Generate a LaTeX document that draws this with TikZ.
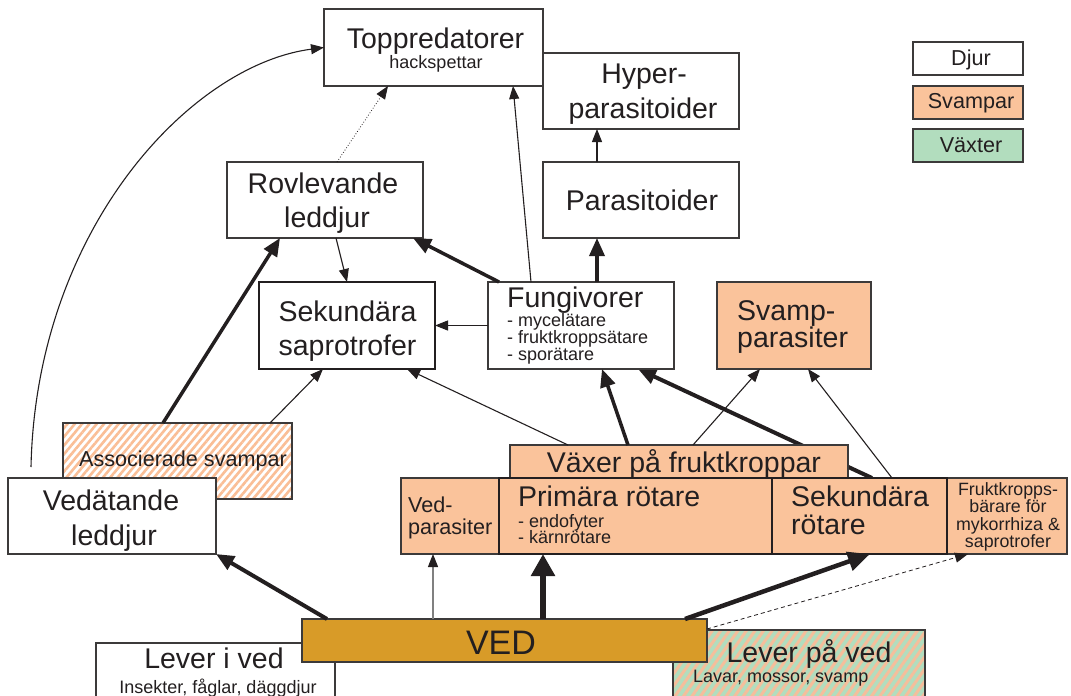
\documentclass[tikz,border=0pt]{standalone}
\usepackage{fontspec}
\setmainfont{Liberation Sans}
\usetikzlibrary{arrows.meta,calc,patterns.meta}
\definecolor{ink}{RGB}{35,31,32}
\definecolor{bord}{RGB}{60,58,58}
\definecolor{svamp}{RGB}{250,195,155}
\definecolor{vaxt}{RGB}{178,221,190}
\definecolor{wood}{RGB}{216,155,40}
\definecolor{stripe}{RGB}{250,190,150}
\definecolor{stripeg}{RGB}{245,190,155}
\pgfdeclarelayer{bg}\pgfsetlayers{bg,main}
\newcommand\fmain{\fontsize{28.5}{34}\selectfont}
\newcommand\fsmall{\fontsize{18}{17}\selectfont}
\newcommand\fmid{\fontsize{21.6}{22}\selectfont}
\newcommand\ftiny{\fontsize{17.8}{17.5}\selectfont}
\newcommand\fved{\fontsize{34}{40}\selectfont}
\begin{document}
\begin{tikzpicture}[x=1pt,y=-1pt,
  box/.style={draw=bord,line width=1.1pt,inner sep=0pt,outer sep=0pt,rectangle},
  boldbox/.style={box,line width=2.7pt,draw=ink},
  fsv/.style={fill=svamp},
  t/.style={anchor=base,inner sep=0pt,text=ink,font=\fmain},
  tl/.style={anchor=base west,inner sep=0pt,text=ink,font=\fmain},
  thinarr/.style={draw=ink,line width=1.1pt,-{Triangle[length=13pt,width=10pt]}},
  thickarr/.style={draw=ink,line width=3.5pt,-{Triangle[length=18pt,width=15pt]}},
  hugearr/.style={draw=ink,line width=6pt,-{Triangle[length=22pt,width=23pt]}},
  bigarr/.style={draw=ink,line width=4.5pt,-{Triangle[length=22pt,width=19pt]}}
]
\useasboundingbox (0,0) rectangle (1071,696);
% ---- boxes ----
\node[box,fill=white,minimum width=239,minimum height=57] (leveri) at (215.5,671.5) {};
\node[box,preaction={fill=vaxt},pattern={Lines[angle=55,distance=7pt,line width=3pt]},pattern color=stripeg,minimum width=252,minimum height=70] (leverpa) at (799,665) {};
\node[box,fill=wood,minimum width=405,minimum height=43] (ved) at (504.5,640.5) {};
\node[box,preaction={fill=white},pattern={Lines[angle=50,distance=5.6pt,line width=2.6pt]},pattern color=stripe,minimum width=229,minimum height=76] (assoc) at (177.5,461) {};
\node[box,fill=white,minimum width=208,minimum height=76] (vedat) at (112,516) {};
\node[box,fill=white,minimum width=219,minimum height=77] (top) at (433.5,47.5) {};
\node[box,fill=white,minimum width=196,minimum height=76] (hyper) at (641,91) {};
\node[box,fill=white,minimum width=196,minimum height=76] (para) at (641,200) {};
\node[box,fill=white,minimum width=196,minimum height=76] (rov) at (325,200) {};
\node[boldbox,fill=white,minimum width=176,minimum height=87] (sek) at (347,325.5) {};
\node[box,fill=white,minimum width=186,minimum height=87] (fung) at (581,325.5) {};
\node[box,fsv,minimum width=154,minimum height=87] (svp) at (794,325.5) {};
\node[box,fill=white,minimum width=110,minimum height=33] (ldjur) at (968,58.5) {};
\node[box,fsv,minimum width=110,minimum height=33] (lsvamp) at (968,102.5) {};
\node[box,fill=vaxt,minimum width=110,minimum height=33] (lvaxt) at (968,145.5) {};
\node[box,fsv,minimum width=338,minimum height=33] (vaxer) at (679,461.5) {};
\node[box,fsv,minimum width=98,minimum height=76] (vedpar) at (450,516) {};
\node[box,fsv,minimum width=120,minimum height=76] (frukt) at (1007,516) {};
\node[boldbox,fsv,minimum width=273,minimum height=76] (prim) at (635.5,516) {};
\node[boldbox,fsv,minimum width=175,minimum height=76] (sekrot) at (859.5,516) {};
% ---- texts ----
\node[t] at (435.5,48) {Toppredatorer};
\node[t,font=\fsmall] at (436,68) {hackspettar};
\node[t] at (644,83) {Hyper-};
\node[t] at (643,118) {parasitoider};
\node[t] at (642,210) {Parasitoider};
\node[t] at (323,193) {Rovlevande};
\node[t] at (327,227) {leddjur};
\node[t] at (347.5,321) {Sekundära};
\node[t] at (347.5,355) {saprotrofer};
\node[tl] at (507,307) {Fungivorer};
\node[tl,font=\fsmall] at (507,326) {- mycelätare};
\node[tl,font=\fsmall] at (507,343) {- fruktkroppsätare};
\node[tl,font=\fsmall] at (507,360) {- sporätare};
\node[tl] at (737,320) {Svamp-};
\node[tl] at (737,347) {parasiter};
\node[t,font=\fmid] at (971,65) {Djur};
\node[t,font=\fmid] at (971,108) {Svampar};
\node[t,font=\fmid] at (971,152) {Växter};
\node[t,font=\fmid] at (183,466) {Associerade svampar};
\node[t] at (111,510) {Vedätande};
\node[t] at (114,545) {leddjur};
\node[t] at (684,472) {Växer på fruktkroppar};
\node[tl,font=\fmid] at (408,512) {Ved-};
\node[tl,font=\fmid] at (408,534) {parasiter};
\node[tl] at (518,506) {Primära rötare};
\node[tl,font=\fsmall] at (518,527) {- endofyter};
\node[tl,font=\fsmall] at (518,543) {- kärnrötare};
\node[tl] at (791,506) {Sekundära};
\node[tl] at (791,534) {rötare};
\node[t,font=\ftiny] at (1008,495) {Fruktkropps-};
\node[t,font=\ftiny] at (1008,512) {bärare för};
\node[t,font=\ftiny] at (1008,530) {mykorrhiza \&};
\node[t,font=\ftiny] at (1008,547) {saprotrofer};
\node[t,font=\fved] at (501,654) {VED};
\node[t] at (214,668) {Lever i ved};
\node[t,font=\fsmall] at (218,693) {Insekter, fåglar, däggdjur};
\node[t] at (809,662) {Lever på ved};
\node[tl,font=\fsmall] at (693,682) {Lavar, mossor, svamp};
% ---- connectors ----
\begin{pgfonlayer}{bg}
\draw[thickarr,line width=4pt] ($(sekrot.north west)+(100,0)$) -- ($(fung.south west)+(150,0)$);
\end{pgfonlayer}
\draw[thinarr] ($(vedat.north west)+(23,-11)$) .. controls (36,230) and (190,65) .. (top.west);
\draw[thinarr,line width=0.8pt,dotted] ($(rov.north west)+(110,0)$) -- ($(top.south west)+(64,0)$);
\draw[thinarr] ($(fung.north west)+(43,0)$) -- ($(top.south west)+(189,0)$);
\draw[thinarr] ($(para.north west)+(54,0)$) -- ($(hyper.south west)+(54,0)$);
\draw[thickarr] ($(fung.north west)+(109,0)$) -- ($(para.south west)+(54,0)$);
\draw[thickarr] ($(fung.north west)+(11,0)$) -- ($(rov.south east)+(-10,0)$);
\draw[thinarr] ($(rov.south west)+(109,0)$) -- ($(sek.north west)+(88,0)$);
\draw[thickarr] ($(assoc.north west)+(100,0)$) -- ($(rov.south west)+(53,0)$);
\draw[thinarr] ($(assoc.north west)+(207,0)$) -- ($(sek.south west)+(64,0)$);
\draw[thinarr] (fung.west) -- (sek.east);
\draw[thinarr] ($(vaxer.north west)+(58,0)$) -- ($(sek.south east)+(-28,0)$);
\draw[thickarr] ($(vaxer.north west)+(118,0)$) -- ($(fung.south west)+(114,0)$);
\draw[thinarr] ($(vaxer.north west)+(183,0)$) -- ($(svp.south west)+(43,0)$);
\draw[thinarr] ($(sekrot.north west)+(120,0)$) -- ($(svp.south west)+(91,0)$);
\draw[thickarr,line width=4pt] ($(ved.north west)+(25,0)$) -- (vedat.south east);
\draw[thinarr,draw=gray,-{Triangle[length=13pt,width=10pt,color=ink]}] ($(ved.north west)+(131,0)$) -- ($(vedpar.south west)+(32,0)$);
\draw[hugearr] ($(ved.north west)+(241,0)$) -- ($(prim.south west)+(44,0)$);
\draw[bigarr] ($(ved.north west)+(383,0)$) -- ($(sekrot.south west)+(98,0)$);
\draw[thinarr,line width=0.8pt,dash pattern=on 4pt off 3pt] ($(ved.north east)+(0,10)$) -- ($(frukt.south west)+(21,0)$);
\end{tikzpicture}
\end{document}
